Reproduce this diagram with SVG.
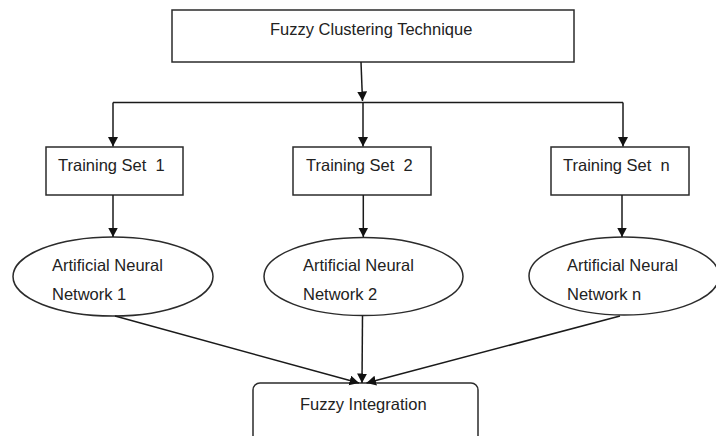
<svg xmlns="http://www.w3.org/2000/svg" width="716" height="436" viewBox="0 0 716 436">
  <style>
    .box { fill: #ffffff; stroke: #2b2b2b; stroke-width: 1.5; }
    .lbl { font-family: "Liberation Sans", Arial, sans-serif; font-size: 16.5px; fill: #222222; }
    .con { fill: none; stroke: #1a1a1a; stroke-width: 1.5; }
  </style>
  <defs>
    <marker id="arr" markerUnits="userSpaceOnUse" markerWidth="11" markerHeight="11" refX="9.5" refY="5" orient="auto">
      <path d="M0,0 L9.5,5 L0,10 Z" fill="#111111"/>
    </marker>
  </defs>
  <rect width="716" height="436" fill="#ffffff"/>

  <g id="fuzzy-clustering">
    <rect class="box" x="172" y="10" width="402" height="52"/>
    <text class="lbl" x="270" y="35">Fuzzy Clustering Technique</text>
  </g>

  <g id="training-set-1">
    <rect class="box" x="46" y="147" width="137" height="48"/>
    <text class="lbl" x="58" y="171" xml:space="preserve">Training Set  1</text>
  </g>
  <g id="training-set-2">
    <rect class="box" x="293" y="147" width="138" height="48"/>
    <text class="lbl" x="306" y="171" xml:space="preserve">Training Set  2</text>
  </g>
  <g id="training-set-n">
    <rect class="box" x="551" y="147" width="138" height="48"/>
    <text class="lbl" x="563" y="171" xml:space="preserve">Training Set  n</text>
  </g>

  <g id="ann-1">
    <ellipse class="box" cx="113" cy="276.5" rx="100" ry="39.5"/>
    <text class="lbl" x="52" y="271">Artificial Neural</text>
    <text class="lbl" x="52" y="300">Network 1</text>
  </g>
  <g id="ann-2">
    <ellipse class="box" cx="363.5" cy="276.5" rx="99.5" ry="39"/>
    <text class="lbl" x="303" y="271">Artificial Neural</text>
    <text class="lbl" x="303" y="300">Network 2</text>
  </g>
  <g id="ann-n">
    <ellipse class="box" cx="624" cy="276" rx="95" ry="39"/>
    <text class="lbl" x="567" y="271">Artificial Neural</text>
    <text class="lbl" x="567" y="300">Network n</text>
  </g>

  <g id="fuzzy-integration">
    <rect class="box" x="253" y="383" width="225" height="62" rx="7" ry="7"/>
    <text class="lbl" x="300" y="410">Fuzzy Integration</text>
  </g>

  <g id="connectors">
    <line class="con" x1="361" y1="62" x2="362.5" y2="101" marker-end="url(#arr)"/>
    <line class="con" x1="113" y1="102.5" x2="623" y2="102.5"/>
    <line class="con" x1="113" y1="102.5" x2="113" y2="146.5" marker-end="url(#arr)"/>
    <line class="con" x1="363" y1="102.5" x2="363" y2="146.5" marker-end="url(#arr)"/>
    <line class="con" x1="623" y1="102.5" x2="623" y2="146.5" marker-end="url(#arr)"/>
    <line class="con" x1="113" y1="195" x2="113" y2="237" marker-end="url(#arr)"/>
    <line class="con" x1="363.3" y1="195" x2="363.3" y2="237" marker-end="url(#arr)"/>
    <line class="con" x1="622" y1="195" x2="622" y2="237" marker-end="url(#arr)"/>
    <line class="con" x1="115" y1="316" x2="359" y2="383" marker-end="url(#arr)"/>
    <line class="con" x1="362.5" y1="315.5" x2="362" y2="383" marker-end="url(#arr)"/>
    <line class="con" x1="620" y1="316" x2="366.5" y2="383" marker-end="url(#arr)"/>
  </g>
</svg>
